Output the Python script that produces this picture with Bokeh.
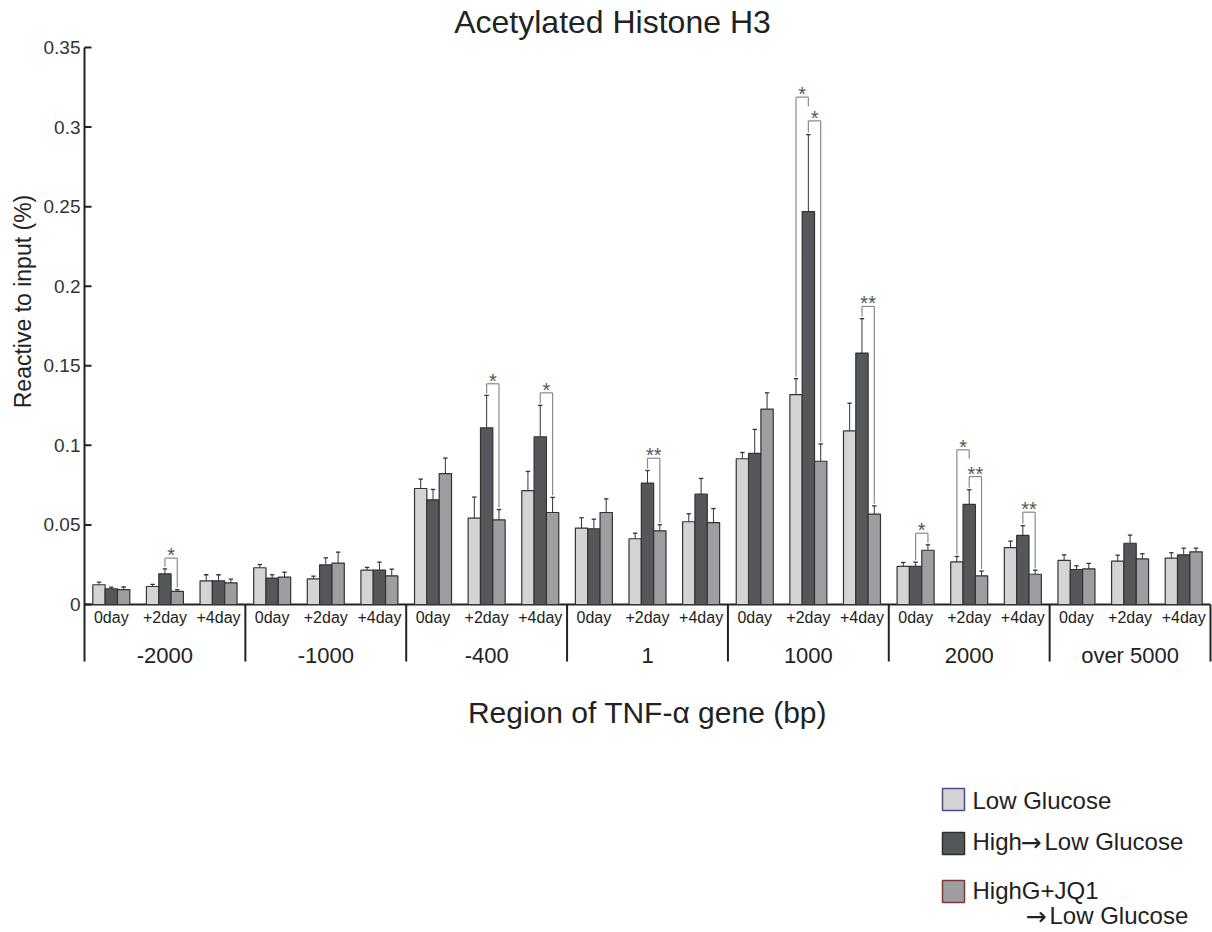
import math
from bokeh.plotting import figure
from bokeh.models import Range1d
from bokeh.core.properties import value
from bokeh.embed import file_html
from bokeh.resources import INLINE

# ---------------- data ----------------
groups = ["-2000", "-1000", "-400", "1", "1000", "2000", "over 5000"]
days = ["0day", "+2day", "+4day"]
series_names = ["Low Glucose", "High\u2192Low Glucose", "HighG+JQ1\n\u2192Low Glucose"]

# one value per (group, day), group-major order
low_mean = [0.0124, 0.0113, 0.0149,
            0.0231, 0.0161, 0.0216,
            0.0729, 0.0543, 0.0715,
            0.0480, 0.0413, 0.0520,
            0.0916, 0.1319, 0.1091,
            0.0239, 0.0268, 0.0358,
            0.0277, 0.0272, 0.0291]
low_err = [0.0016, 0.0013, 0.0038,
           0.0020, 0.0017, 0.0017,
           0.0059, 0.0132, 0.0121,
           0.0065, 0.0035, 0.0050,
           0.0039, 0.0100, 0.0174,
           0.0025, 0.0034, 0.0040,
           0.0035, 0.0038, 0.0034]
high_mean = [0.0099, 0.0193, 0.0149,
             0.0166, 0.0249, 0.0216,
             0.0658, 0.1110, 0.1054,
             0.0476, 0.0763, 0.0693,
             0.0950, 0.2469, 0.1580,
             0.0239, 0.0629, 0.0434,
             0.0220, 0.0385, 0.0312]
high_err = [0.0010, 0.0031, 0.0038,
            0.0021, 0.0044, 0.0050,
            0.0065, 0.0204, 0.0197,
            0.0060, 0.0079, 0.0099,
            0.0150, 0.0484, 0.0216,
            0.0027, 0.0092, 0.0061,
            0.0023, 0.0051, 0.0042]
jq1_mean = [0.0094, 0.0082, 0.0136,
            0.0172, 0.0260, 0.0180,
            0.0823, 0.0532, 0.0578,
            0.0578, 0.0463, 0.0515,
            0.1228, 0.0900, 0.0568,
            0.0341, 0.0180, 0.0190,
            0.0224, 0.0287, 0.0331]
jq1_err = [0.0016, 0.0012, 0.0023,
           0.0031, 0.0069, 0.0042,
           0.0097, 0.0065, 0.0095,
           0.0086, 0.0038, 0.0088,
           0.0102, 0.0109, 0.0052,
           0.0034, 0.0030, 0.0026,
           0.0034, 0.0032, 0.0023]

y_ticks = [0, 0.05, 0.1, 0.15, 0.2, 0.25, 0.3, 0.35]
y_tick_labels = ["0", "0.05", "0.1", "0.15", "0.2", "0.25", "0.3", "0.35"]

# significance brackets: cluster index (group*3+day), series a, series b, label, bracket level
sig_cluster = [1, 7, 8, 10, 13, 13, 14, 15, 16, 16, 17]
sig_a = [1, 1, 1, 1, 0, 1, 1, 1, 0, 1, 1]
sig_b = [2, 2, 2, 2, 1, 2, 2, 2, 1, 2, 2]
sig_text = ["*", "*", "*", "**", "*", "*", "**", "*", "*", "**", "**"]
sig_level = [0.0291, 0.1387, 0.1330, 0.0919, 0.3188, 0.3039, 0.1873, 0.0448, 0.0972, 0.0804, 0.0580]
sig_b_short = [False, False, False, False, True, False, False, False, True, False, False]

# ---------------- styling / layout ----------------
W, H = 1212, 932
FONT = "Liberation Sans"
ARROW_FONT = "DejaVu Sans"
TXT = "#222222"
fills = ["#d3d4d5", "#55585b", "#9d9ea1"]
legend_borders = ["#4b4e88", "#2c302d", "#7a3a3a"]
BAR_W = 0.23

ZERO_X_PX, END_X_PX = 84, 1210
CL_PX = (END_X_PX - ZERO_X_PX) / 21.0
ZERO_Y_PX, TOP_Y_PX = 604, 47
Y_PX = (ZERO_Y_PX - TOP_Y_PX) / 0.35


def xs(px):
    return (px - ZERO_X_PX) / CL_PX


def ys(py):
    return (ZERO_Y_PX - py) / Y_PX


p = figure(width=W, height=H, title=None,
           x_range=Range1d(xs(0), xs(W)),
           y_range=Range1d(ys(H), ys(0)),
           output_backend="svg", toolbar_location=None,
           min_border_left=0, min_border_right=0,
           min_border_top=0, min_border_bottom=0)
p.xaxis.visible = False
p.yaxis.visible = False
p.grid.visible = False
p.outline_line_color = None
p.background_fill_color = "white"
p.border_fill_color = "white"

# y axis (drawn on the data scale)
SEP_BOTTOM = ys(661)
p.segment(x0=[0], y0=[y_ticks[-1]], x1=[0], y1=[SEP_BOTTOM], line_color=TXT, line_width=2)
p.segment(x0=[0] * len(y_ticks), y0=y_ticks, x1=[xs(91)] * len(y_ticks), y1=y_ticks,
          line_color=TXT, line_width=2)
p.text(x=[xs(80)] * len(y_ticks), y=y_ticks, text=y_tick_labels, text_font=value(FONT),
       text_font_size="19px", text_align="right", text_baseline="middle", text_color="#333333")
p.text(x=[xs(22)], y=[ys(301)], text=["Reactive to input (%)"], angle=math.pi / 2,
       text_font=value(FONT), text_font_size="23px", text_align="center",
       text_baseline="middle", text_color=TXT)

# x baseline and group separators
p.segment(x0=[0], y0=[0], x1=[21], y1=[0], line_color=TXT, line_width=2)
sep_x = [3 * (g + 1) for g in range(len(groups))]
p.segment(x0=sep_x, y0=[0] * len(sep_x), x1=sep_x, y1=[SEP_BOTTOM] * len(sep_x),
          line_color=TXT, line_width=2)

# bars and error bars
means = [low_mean, high_mean, jq1_mean]
errs = [low_err, high_err, jq1_err]
bar_x = []
for s in range(3):
    xx = [i + 0.5 + (s - 1) * BAR_W for i in range(len(means[s]))]
    bar_x.append(xx)
    p.vbar(x=xx, top=means[s], bottom=0, width=BAR_W, fill_color=fills[s],
           line_color="#333333", line_width=1.2)
cap = 2.2 / CL_PX
for s in range(3):
    xx = bar_x[s]
    tops = [m + e for m, e in zip(means[s], errs[s])]
    p.segment(x0=xx, y0=means[s], x1=xx, y1=tops, line_color="#333333", line_width=1)
    p.segment(x0=[x - cap for x in xx], y0=tops, x1=[x + cap for x in xx], y1=tops,
              line_color="#333333", line_width=1.3)

# significance brackets
gap = 2 / Y_PX
short = 9 / Y_PX
star_lift = 3 / Y_PX
bx0, by0, bx1, by1 = [], [], [], []
star_x, star_y = [], []
for c, a, b, lvl, bs in zip(sig_cluster, sig_a, sig_b, sig_level, sig_b_short):
    xa, xb = bar_x[a][c], bar_x[b][c]
    ya = means[a][c] + errs[a][c] + gap
    yb = (lvl - short) if bs else means[b][c] + errs[b][c] + gap
    bx0 += [xa, xa, xb]
    by0 += [ya, lvl, lvl]
    bx1 += [xa, xb, xb]
    by1 += [lvl, lvl, yb]
    star_x.append((xa + xb) / 2)
    star_y.append(lvl + star_lift)
p.segment(x0=bx0, y0=by0, x1=bx1, y1=by1, line_color="#8a8a8a", line_width=1.2)
p.text(x=star_x, y=star_y, text=sig_text, text_font=value(FONT),
       text_font_size="20px", text_align="center", text_baseline="middle",
       text_color="#555555")

# category labels
day_x = [i + 0.5 for i in range(21)]
day_lbl = [days[i % 3] for i in range(21)]
p.text(x=day_x, y=[ys(617)] * 21, text=day_lbl, text_font=value(FONT),
       text_font_size="16px", text_align="center", text_baseline="middle", text_color=TXT)
p.text(x=[3 * g + 1.5 for g in range(len(groups))], y=[ys(655)] * len(groups), text=groups,
       text_font=value(FONT), text_font_size="22px", text_align="center",
       text_baseline="middle", text_color=TXT)

# titles
p.text(x=[xs(612)], y=[ys(21)], text=["Acetylated Histone H3"], text_font=value(FONT),
       text_font_size="32px", text_align="center", text_baseline="middle", text_color=TXT)
p.text(x=[xs(647)], y=[ys(712)], text=["Region of TNF-\u03b1 gene (bp)"], text_font=value(FONT),
       text_font_size="30px", text_align="center", text_baseline="middle", text_color=TXT)

# legend
box_y_px = [799, 843, 891]
p.rect(x=[xs(953)] * 3, y=[ys(v) for v in box_y_px], width=22, height=22,
       width_units="screen", height_units="screen", fill_color=fills,
       line_color=legend_borders, line_width=1.5)

line_mid_px = [[800], [841], [890, 915]]          # vertical centre of each legend line
line_start_px = [[972], [972], [972, 1026]]       # left edge of each line
piece_x, piece_y, piece_t, arrow_x, arrow_y = [], [], [], [], []
ARROW = "\u2192"
for name, mids, starts in zip(series_names, line_mid_px, line_start_px):
    for line, mid, start in zip(name.split("\n"), mids, starts):
        parts = line.split(ARROW)
        x = start
        for k, part in enumerate(parts):
            if k > 0:
                arrow_x.append(xs(x - 1))
                arrow_y.append(ys(mid + 1))
                x += 23
            if part:
                piece_x.append(xs(x))
                piece_y.append(ys(mid))
                piece_t.append(part)
                x += 49
p.text(x=piece_x, y=piece_y, text=piece_t, text_font=value(FONT), text_font_size="24px",
       text_align="left", text_baseline="middle", text_color=TXT)
p.text(x=arrow_x, y=arrow_y, text=[ARROW] * len(arrow_x), text_font=value(ARROW_FONT),
       text_font_size="25px", text_align="left", text_baseline="middle", text_color=TXT)

open("out.html", "w").write(file_html(p, INLINE))
